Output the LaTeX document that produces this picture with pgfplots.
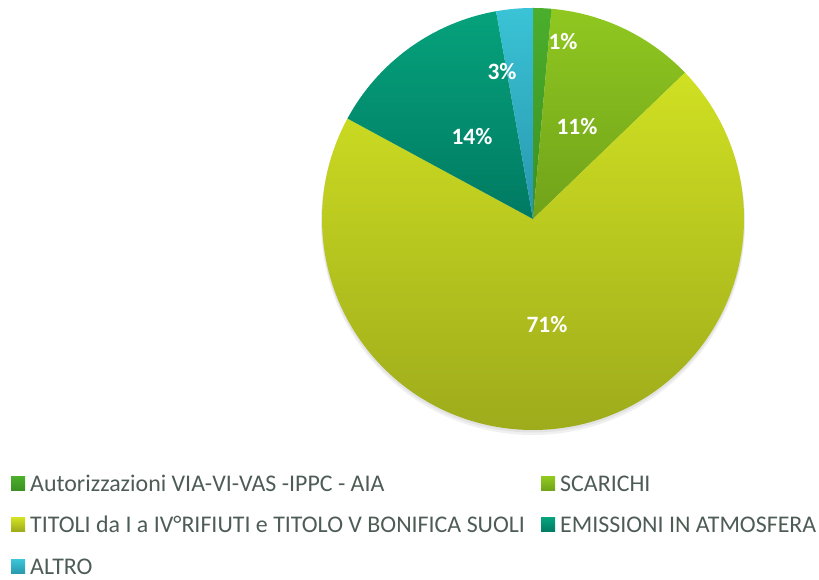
\documentclass[border=0pt]{standalone}
\usepackage{fontspec}
\setmainfont{Carlito}
\usepackage{pgfplots}
\usepackage{pgfplotstable}
\pgfplotsset{compat=1.18}

\definecolor{c1t}{HTML}{4BAE2C}\definecolor{c1b}{HTML}{3B8F22}
\definecolor{c2t}{HTML}{90C820}\definecolor{c2b}{HTML}{70A21A}
\definecolor{c3t}{HTML}{D0E022}\definecolor{c3b}{HTML}{9BA81B}
\definecolor{c4t}{HTML}{06A27C}\definecolor{c4b}{HTML}{007A62}
\definecolor{c5t}{HTML}{3AC3D6}\definecolor{c5b}{HTML}{2896AC}
\definecolor{legtext}{HTML}{4E5C56}

% value (percent of whole), printed label, label position (px)
\pgfplotstableread{
value pct lx ly
1.4   1   563 -42
11.4  11  577 -127
70.1  71  547 -325
14.3  14  472 -137
2.8   3   502 -72
}\piedata

\begin{document}
\begin{tikzpicture}
\begin{axis}[
  width=819bp, height=580bp, scale only axis,
  xmin=0, xmax=819, ymin=-580, ymax=0,
  hide axis, clip=false,
]
\addplot[draw=none] coordinates {(0,0) (819,-580)};
\pgfplotsextra{
  % soft shadow
  \fill[black, opacity=0.06] (axis cs:533,-223) circle[radius=212bp];
  \fill[black, opacity=0.06] (axis cs:533,-221) circle[radius=211.5bp];
  \xdef\cum{0}
  \foreach \i/\ct/\cb in {0/c1t/c1b,1/c2t/c2b,2/c3t/c3b,3/c4t/c4b,4/c5t/c5b}{
    \pgfplotstablegetelem{\i}{value}\of\piedata
    \let\v\pgfplotsretval
    \pgfmathsetmacro{\a}{90-3.6*\cum}
    \pgfmathsetmacro{\b}{90-3.6*(\cum+\v)}
    \shade[top color=\ct, bottom color=\cb]
      (axis cs:533,-219) -- ++(\a:211bp) arc[start angle=\a, end angle=\b, radius=211bp] -- cycle;
    \pgfmathsetmacro{\c}{\cum+\v}
    \xdef\cum{\c}
  }
  \foreach \i in {0,...,4}{
    \pgfplotstablegetelem{\i}{pct}\of\piedata \let\p\pgfplotsretval
    \pgfplotstablegetelem{\i}{lx}\of\piedata \let\lx\pgfplotsretval
    \pgfplotstablegetelem{\i}{ly}\of\piedata \let\ly\pgfplotsretval
    \node[text=white, font=\bfseries\fontsize{23.5}{23.5}\selectfont, inner sep=0pt]
      at (axis cs:\lx,\ly) {\p\%};
  }
  % legend
  \foreach \mx/\tx/\by/\ct/\cb/\txt in {
    11/30/-492/c1t/c1b/{Autorizzazioni VIA-VI-VAS -IPPC - AIA},
    541/560/-492/c2t/c2b/{SCARICHI},
    11/30/-533/c3t/c3b/{TITOLI da I a IV°RIFIUTI e TITOLO V BONIFICA SUOLI},
    541/560/-533/c4t/c4b/{EMISSIONI IN ATMOSFERA},
    11/30/-575/c5t/c5b/{ALTRO}}{
    \shade[top color=\ct, bottom color=\cb] (axis cs:\mx,\by+1) rectangle ++(14bp,14bp);
    \node[anchor=base west, inner sep=0pt, text=legtext, font=\fontsize{24}{24}\selectfont]
      at (axis cs:\tx,\by) {\txt};
  }
}
\end{axis}
\end{tikzpicture}
\end{document}
